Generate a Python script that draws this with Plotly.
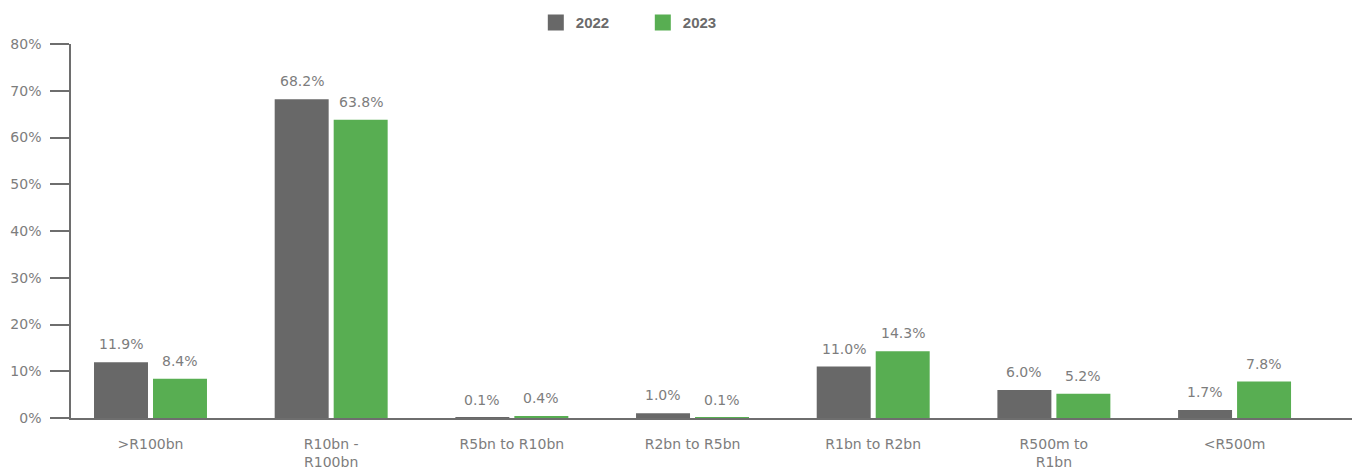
import plotly.graph_objects as go

categories = [">R100bn", "R10bn -<br>R100bn", "R5bn to R10bn", "R2bn to R5bn",
              "R1bn to R2bn", "R500m to<br>R1bn", "&lt;R500m"]
values_2022 = [11.9, 68.2, 0.1, 1.0, 11.0, 6.0, 1.7]
values_2023 = [8.4, 63.8, 0.4, 0.1, 14.3, 5.2, 7.8]
y_ticks = [0, 10, 20, 30, 40, 50, 60, 70, 80]
y_tick_labels = [f"{t}%" for t in y_ticks]

GREY = "#686868"
GREEN = "#58AE52"
TEXT = "#7d7d7d"
AXIS = "#6e6e6e"
FONT = "'DejaVu Sans', sans-serif"
FSIZE = 14

fig = go.Figure()
fig.add_trace(go.Bar(x=categories, y=values_2022, name="2022",
                     marker=dict(color=GREY, line=dict(width=0)), showlegend=False))
fig.add_trace(go.Bar(x=categories, y=values_2023, name="2023",
                     marker=dict(color=GREEN, line=dict(width=0)), showlegend=False))

# legend entries with larger square swatches
for name, col in [("2022", GREY), ("2023", GREEN)]:
    fig.add_trace(go.Scatter(x=[None], y=[None], mode="markers", name=name,
                             marker=dict(symbol="square", size=16, color=col)))

# value labels above each bar
annotations = []
for series, shift in [(values_2022, -29.5), (values_2023, 29.5)]:
    for cat, v in zip(categories, series):
        annotations.append(dict(x=cat, y=v, xref="x", yref="y", text=f"{v:.1f}%",
                                showarrow=False, xshift=shift, yshift=8,
                                yanchor="bottom", xanchor="center",
                                font=dict(family=FONT, size=FSIZE, color=TEXT)))

fig.update_layout(
    width=1359, height=472,
    margin=dict(l=71, r=7, t=44, b=54, autoexpand=False),
    plot_bgcolor="white", paper_bgcolor="white",
    barmode="group", bargap=0.347, bargroupgap=0.085,
    font=dict(family=FONT, size=FSIZE, color=TEXT),
    legend=dict(orientation="h", xref="container", x=0.473, xanchor="center",
                yref="container", y=0.952, yanchor="middle",
                font=dict(family="'Liberation Sans', Arial, sans-serif",
                          size=15, color="#6b6b6b", weight="bold"),
                itemwidth=30, traceorder="normal", entrywidth=62),
    annotations=annotations,
    xaxis=dict(range=[-0.44, 6.65], showline=True, linecolor=AXIS, linewidth=1.5,
               ticks="", showgrid=False, zeroline=False, ticklabelstandoff=12,
               automargin=False,
               tickfont=dict(family=FONT, size=FSIZE, color=TEXT)),
    yaxis=dict(range=[0, 80], tickvals=y_ticks, ticktext=y_tick_labels,
               showline=True, linecolor=AXIS, linewidth=1.5, ticks="outside",
               ticklen=19, tickcolor=AXIS, tickwidth=1.5, showgrid=False,
               zeroline=False, ticklabelstandoff=6, automargin=False,
               tickfont=dict(family=FONT, size=FSIZE, color=TEXT)),
)

fig.write_html("out.html")
